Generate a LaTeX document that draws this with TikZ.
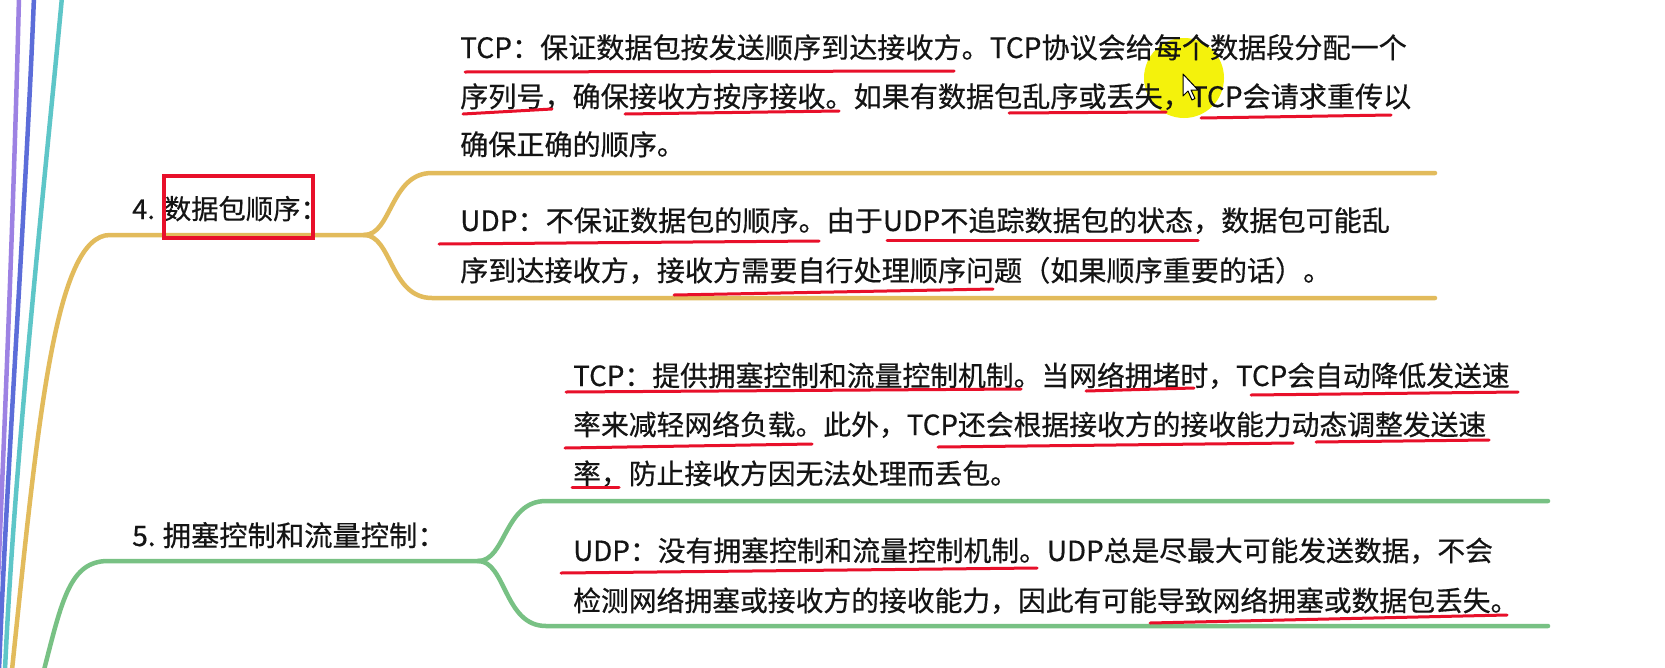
\documentclass[tikz,border=0pt]{standalone}
\usepackage{fontspec}
\setmainfont[FakeBold=0.5]{Noto Sans CJK SC}
\definecolor{txt}{HTML}{141414}
\definecolor{redpen}{HTML}{E8102A}
\definecolor{goldbr}{HTML}{E2BB5C}
\definecolor{greenbr}{HTML}{78C184}
\definecolor{lilacbr}{HTML}{9D82E3}
\definecolor{indigobr}{HTML}{5C6DD9}
\definecolor{aquabr}{HTML}{5EC6C8}
\definecolor{hilite}{HTML}{F4F20C}

\begin{document}
\begin{tikzpicture}[x=1pt, y=-1pt,
  txtline/.style={anchor=base west, inner sep=0pt, text=txt,
    font=\fontsize{27.8}{30}\selectfont},
  wideline/.style={txtline, font=\fontsize{28.1}{30}\selectfont},
  topic/.style={anchor=base west, inner sep=0pt, text=txt,
    font=\fontsize{27.3}{30}\selectfont},
  branch/.style={line width=4.5pt, line cap=round},
  uline/.style={redpen, line width=3pt, line cap=round},
  hlbox/.style={draw=redpen, line width=3.5pt, inner sep=0pt},
]
  \useasboundingbox (0,0) rectangle (1665,667);
  \fill[white] (0,0) rectangle (1665,667);
  \fill[hilite] (1184,78) circle[radius=40];

  % outer branches
  \draw[branch, lilacbr] (19,-3) .. controls (14,200) and (4,450) .. (-6,670);
  \draw[branch, indigobr] (34,-3) .. controls (26,200) and (8,450) .. (-1,670);
  \draw[branch, aquabr] (62,-3) .. controls (45,180) and (15,450) .. (5,670);

  \coordinate (j4) at (364,235);
  \coordinate (t4) at (432,173);
  \coordinate (u4) at (432,298);
  \draw[branch, goldbr] (12,670) .. controls (38,420) and (55,235) .. (110,235) -- (j4);
  \draw[branch, goldbr] (j4) .. controls (392,235) and (390,173) .. (t4) -- (1435,173);
  \draw[branch, goldbr] (j4) .. controls (392,235) and (390,298) .. (u4) -- (1435,298);

  \coordinate (j5) at (478,561);
  \coordinate (t5) at (546,501);
  \coordinate (u5) at (546,626);
  \draw[branch, greenbr] (44,670) .. controls (62,600) and (70,561) .. (108,561) -- (j5);
  \draw[branch, greenbr] (j5) .. controls (506,561) and (504,501) .. (t5) -- (1548,501);
  \draw[branch, greenbr] (j5) .. controls (506,561) and (504,626) .. (u5) -- (1548,626);

  \node[topic] (n4) at (132,219) {4.\hspace{9pt}数据包顺序：};
  \node[topic, font=\fontsize{28.3}{30}\selectfont] (n5) at (132,546) {5.\hspace{7pt}拥塞控制和流量控制：};

  \node[wideline] (t4a) at (460,58) {TCP：保证数据包按发送顺序到达接收方。TCP协议会给每个数据段分配一个};
  \node[wideline] (t4b) at (460,107) {序列号，确保接收方按序接收。如果有数据包乱序或丢失，TCP会请求重传以};
  \node[wideline] (t4c) at (460,155) {确保正确的顺序。};
  \node[wideline] (u4a) at (460,231) {UDP：不保证数据包的顺序。由于UDP不追踪数据包的状态，数据包可能乱};
  \node[wideline] (u4b) at (460,281) {序到达接收方，接收方需要自行处理顺序问题（如果顺序重要的话）。};

  \node[txtline] (t5a) at (573,386) {TCP：提供拥塞控制和流量控制机制。当网络拥堵时，TCP会自动降低发送速};
  \node[txtline] (t5b) at (573,435) {率来减轻网络负载。此外，TCP还会根据接收方的接收能力动态调整发送速};
  \node[txtline] (t5c) at (573,484) {率，防止接收方因无法处理而丢包。};
  \node[txtline] (u5a) at (573,561) {UDP：没有拥塞控制和流量控制机制。UDP总是尽最大可能发送数据，不会};
  \node[txtline] (u5b) at (573,611) {检测网络拥塞或接收方的接收能力，因此有可能导致网络拥塞或数据包丢失。};

  % pen marks
  \draw[hlbox] (164,176) rectangle (313,238);
  \foreach \xa/\ya/\xb/\yb in {465/72/954/71, 463/114/552/109, 625/114/839/111,
      1009/113/1166/112, 1201/118/1391/115, 439/244/819/241, 887/240/1198/240,
      674/295/993/289, 566/392/1021/389, 1086/391/1194/388, 1251/395/1518/392,
      565/448/812/444, 938/447/1293/443, 1316/442/1489/440, 572/487/619/487,
      561/573/1037/568, 1150/623/1507/615}{
    \draw[uline] (\xa,\ya) -- (\xb,\yb);
  }

  \draw[fill=white, line width=1pt, line join=round] (1183,74) -- ++(0,22) -- ++(5,-5)
    -- ++(4,9) -- ++(3,-1.5) -- ++(-4,-8.5) -- ++(7,0) -- cycle;
\end{tikzpicture}
\end{document}
